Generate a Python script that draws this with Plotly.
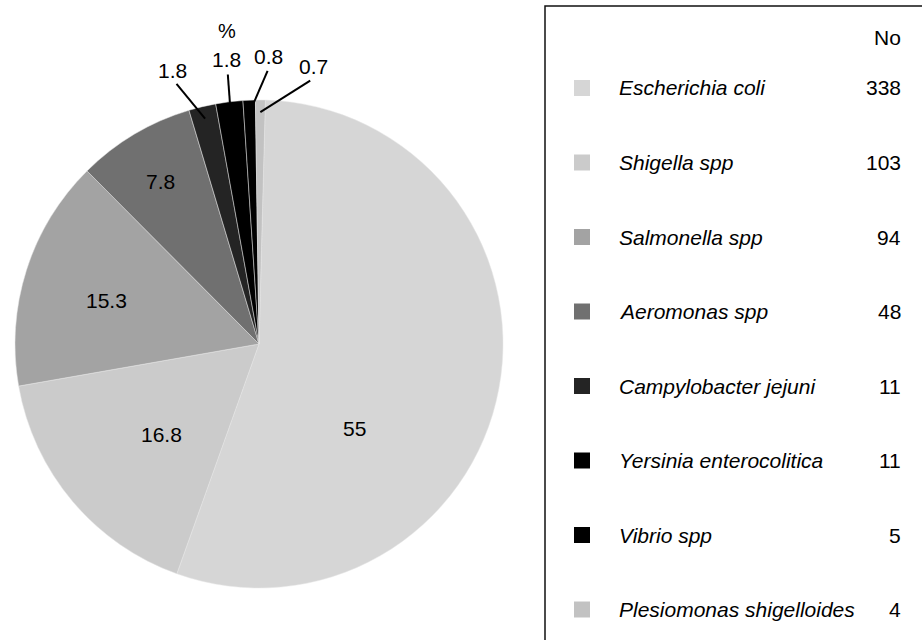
import math
import plotly.graph_objects as go

# ---------------- data ----------------
species = ["Escherichia coli", "Shigella spp", "Salmonella spp", "Aeromonas spp",
           "Campylobacter jejuni", "Yersinia enterocolitica", "Vibrio spp",
           "Plesiomonas shigelloides"]
counts = [338, 103, 94, 48, 11, 11, 5, 4]
percent_labels = ["55", "16.8", "15.3", "7.8", "1.8", "1.8", "0.8", "0.7"]

# ---------------- style ----------------
colors = ["#d6d6d6", "#cbcbcb", "#a3a3a3", "#707070", "#242424", "#000000",
          "#000000", "#c2c2c2"]
FONT = "Liberation Sans, Arial, Helvetica, sans-serif"
W, H = 922, 640
OFF = 0.0                                 # page body margin removed via post_script
CX, CY, R = 259.0, 344.0, 244.0          # pie centre / radius in window pixels
ROT = 1.5                                 # degrees clockwise from 12 o'clock
# label placement: (angle clockwise from top in deg, radius factor)
label_pos = [(131.5, 0.52), (227.4, 0.545), (286.1, 0.65), (328.7, 0.78),
             (342.4, 1.178), (353.4, 1.172), (1.8, 1.18), (11.0, 1.16)]
leader = [False, False, False, False, True, True, True, True]

def px2paper(x, y):
    return (x - OFF) / W, 1 - (y - OFF) / H

def polar(theta_deg, f):
    t = math.radians(theta_deg)
    return CX + R * f * math.sin(t), CY - R * f * math.cos(t)

fig = go.Figure()
x0, y1 = px2paper(CX - R, CY - R)
x1, y0 = px2paper(CX + R, CY + R)
fig.add_trace(go.Pie(
    labels=species, values=counts, sort=False, direction="clockwise",
    rotation=ROT, textinfo="none", hoverinfo="label+value+percent",
    marker=dict(colors=colors, line=dict(color="#e6e6e6", width=0.5)),
    domain=dict(x=[x0, x1], y=[y0, y1]), showlegend=False,
))

annotations = []
shapes = []
total = sum(counts)
cum = 0.0
for i, (lab, v) in enumerate(zip(percent_labels, counts)):
    mid = ROT + (cum + v / 2) / total * 360.0
    cum += v
    ang, f = label_pos[i]
    lx, ly = polar(ang, f)
    ax, ay = px2paper(lx, ly)
    annotations.append(dict(x=ax, y=ay, xref="paper", yref="paper", text=lab,
                            showarrow=False, xanchor="center", yanchor="middle",
                            font=dict(family=FONT, size=21, color="#000")))
    if leader[i]:
        sx, sy = polar(mid, 0.95)
        ex, ey = polar(ang, f - 0.06)
        p0 = px2paper(sx, sy)
        p1 = px2paper(ex, ey)
        shapes.append(dict(type="line", xref="paper", yref="paper",
                           x0=p0[0], y0=p0[1], x1=p1[0], y1=p1[1],
                           line=dict(color="#000", width=2)))

# "%" header above the small-slice labels
px_, py_ = px2paper(227, 31)
annotations.append(dict(x=px_, y=py_, xref="paper", yref="paper", text="%",
                        showarrow=False, xanchor="center", yanchor="middle",
                        font=dict(family=FONT, size=20, color="#000")))

# ---------------- legend box ----------------
bx0, by0 = px2paper(545, 6)
bx1, by1 = px2paper(950, 670)
shapes.append(dict(type="rect", xref="paper", yref="paper", x0=bx0, y0=by1,
                   x1=bx1, y1=by0, line=dict(color="#111", width=1.5),
                   fillcolor="rgba(0,0,0,0)"))
nx, ny = px2paper(903, 38)
annotations.append(dict(x=nx, y=ny, xref="paper", yref="paper", text="No",
                        showarrow=False, xanchor="right", yanchor="middle",
                        font=dict(family=FONT, size=21, color="#000")))
ROW0, STEP = 88.0, 74.5
for i, (name, c) in enumerate(zip(species, counts)):
    yc = ROW0 + i * STEP
    mx0, my0 = px2paper(574, yc - 8)
    mx1, my1 = px2paper(590, yc + 8)
    shapes.append(dict(type="rect", xref="paper", yref="paper", x0=mx0, y0=my1,
                       x1=mx1, y1=my0, line=dict(width=0), fillcolor=colors[i]))
    tx, ty = px2paper(617, yc)
    annotations.append(dict(x=tx, y=ty, xref="paper", yref="paper",
                            text=f"<i>{name}</i>", showarrow=False,
                            xanchor="left", yanchor="middle",
                            font=dict(family=FONT, size=21, color="#000")))
    cx_, cy_ = px2paper(903, yc)
    annotations.append(dict(x=cx_, y=cy_, xref="paper", yref="paper",
                            text=str(c), showarrow=False,
                            xanchor="right", yanchor="middle",
                            font=dict(family=FONT, size=21, color="#000")))

fig.update_layout(
    width=W, height=H, margin=dict(l=0, r=0, t=0, b=0),
    paper_bgcolor="white", plot_bgcolor="white",
    annotations=annotations, shapes=shapes,
    font=dict(family=FONT),
)
fig.write_html("out.html", config={"displayModeBar": False},
               post_script="document.body.style.margin='0';document.body.style.overflow='hidden';")
